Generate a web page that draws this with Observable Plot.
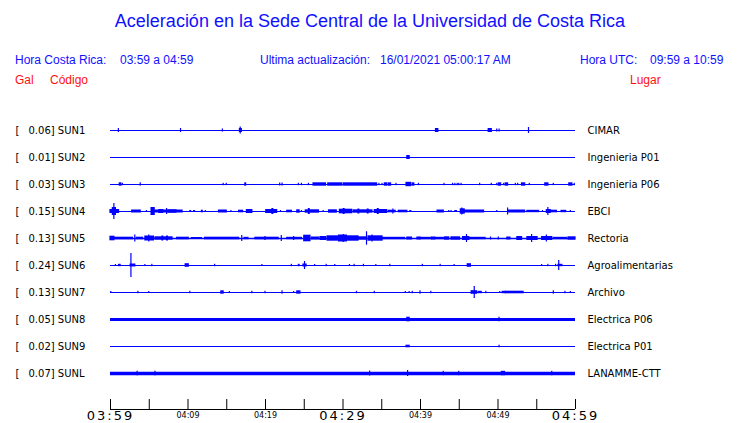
<!DOCTYPE html>
<html><head><meta charset="utf-8">
<script src="https://cdn.jsdelivr.net/npm/d3@7"></script>
<script src="https://cdn.jsdelivr.net/npm/@observablehq/plot@0.6"></script>
<style>
body{margin:0;background:#fff;width:740px;height:423px;position:relative;overflow:hidden;font-family:"Liberation Sans",Arial,sans-serif;}
.t{position:absolute;white-space:pre;}
#title{left:0;width:740px;text-align:center;top:9px;font-size:18px;line-height:24px;color:#1010ff;}
.info{font-size:12px;line-height:16px;color:#1010ff;top:52px;}
.red{font-size:12px;line-height:16px;color:#ff1010;top:72px;}
#chart{position:absolute;left:0;top:95px;}
</style></head>
<body>
<div id="title" class="t">Aceleración en la Sede Central de la Universidad de Costa Rica</div>
<div class="t info" style="left:15px">Hora Costa Rica:</div>
<div class="t info" style="left:120px">03:59 a 04:59</div>
<div class="t info" style="left:260px">Ultima actualización:</div>
<div class="t info" style="left:380px">16/01/2021 05:00:17 AM</div>
<div class="t info" style="left:580px">Hora UTC:</div>
<div class="t info" style="left:650px">09:59 a 10:59</div>
<div class="t red" style="left:15px">Gal</div>
<div class="t red" style="left:50px">Código</div>
<div class="t red" style="left:630px">Lugar</div>
<div id="chart"></div>
<script>
// ---- data ----
const codes = ["SUN1","SUN2","SUN3","SUN4","SUN5","SUN6","SUN7","SUN8","SUN9","SUNL"];
const places = ["CIMAR","Ingenieria P01","Ingenieria P06","EBCI","Rectoria","Agroalimentarias","Archivo","Electrica P06","Electrica P01","LANAMME-CTT"];
const gal = [0.06,0.01,0.03,0.15,0.13,0.24,0.13,0.05,0.02,0.07];
// bursts per station: [start minute, end minute, half amplitude]
const sun1 = [[1.08,1.08,2],[9.1,9.1,2],[14.5,14.5,1.5],[16.7,16.95,2],[16.8,16.8,3.5],[42.0,42.3,2],[48.8,49.2,2],[49.9,49.9,1.5],[50.2,50.2,1.5],[54.0,54.0,3]];
const sun2 = [[38.3,38.6,2]];
const sun3 = [[1.2,1.4,1.7],[1.6,1.6,1.2],[3.9,3.9,1.7],[14.6,14.6,1.2],[15.0,15.0,1.2],[17.4,17.5,1.7],[21.9,21.9,1.5],[22.2,22.2,1.5],[24.3,24.3,1.2],[24.7,24.7,1.2],[25.6,25.6,1.2],[26.2,27.8,1.7],[28.1,29.9,1.7],[30.1,32.9,1.7],[33.0,34.4,1.7],[34.7,34.7,1.2],[35.1,35.1,1.2],[35.4,35.7,1.7],[35.9,36.2,1.7],[36.9,36.9,1.2],[38.2,38.8,2.2],[39.0,39.2,1.7],[39.8,39.8,1.2],[43.1,43.1,1.2],[44.2,44.2,1.2],[44.5,44.5,1.2],[44.8,44.8,1.2],[45.0,45.0,1.2],[45.3,45.3,1.2],[47.7,47.7,1.2],[49.2,49.2,1.2],[49.9,49.9,1.2],[50.1,50.4,1.7],[50.8,50.8,1.2],[51.0,51.3,1.7],[52.3,52.3,1.2],[52.6,52.6,1.2],[53.1,53.5,1.7],[54.1,54.1,1.2],[56.1,56.5,1.7],[57.2,57.2,1.2],[59.2,59.6,1.7],[59.9,59.9,1.2]];
const sun4 = [[0.0,1.1,2],[0.5,0.5,8],[0.3,0.7,4],[2.8,3.9,1.5],[4.7,4.7,1],[5.3,5.7,4],[5.7,9.3,1.5],[6.3,6.8,2],[7.3,7.3,3],[7.5,8.5,1.7],[10.3,10.4,1],[10.8,10.9,1],[11.8,11.9,1.3],[12.3,12.3,1],[14.0,15.0,1.5],[15.6,15.6,1],[16.6,17.1,1.3],[17.6,18.3,2],[20.1,21.5,2],[20.9,21.0,3],[22.0,22.0,1],[22.8,23.4,1.3],[24.1,24.4,1.7],[24.7,24.7,1],[25.2,26.9,1.7],[25.6,25.7,3],[27.5,27.5,1],[28.2,29.2,1.7],[29.6,31.2,2.3],[30.1,30.2,3],[31.4,33.8,1.7],[32.0,32.1,2.5],[33.2,33.3,2.5],[34.1,35.7,2],[34.5,34.6,3],[35.9,36.8,1.3],[36.5,36.5,2.5],[37.2,38.3,1.3],[38.7,38.8,1],[42.2,43.0,1.5],[43.7,43.7,1],[44.0,44.0,1],[44.5,44.7,1],[45.2,45.7,2.7],[45.4,45.4,3.5],[45.7,48.2,1.5],[49.9,49.9,1],[51.3,51.3,3.5],[51.4,53.5,1.5],[53.8,55.3,1.2],[55.8,55.8,1],[56.3,56.8,2],[56.5,56.5,4],[56.8,57.6,1.3],[58.2,58.8,1.2],[59.4,59.4,1]];
const sun5 = [[0.0,0.5,2.3],[0.5,2.9,1.3],[3.2,3.2,3.5],[3.4,4.2,1.3],[4.5,5.6,2.5],[5.0,5.0,3.5],[5.8,8.0,1.7],[6.7,6.8,2.5],[7.3,7.4,2.5],[8.6,10.1,1.3],[10.5,11.8,1],[12.2,16.6,1.3],[17.0,17.0,3],[17.3,17.8,1.2],[18.7,21.7,1.3],[20.0,20.0,2],[22.1,22.1,3],[22.8,24.7,1.2],[23.7,23.7,2],[25.0,25.8,3.3],[26.0,26.9,1.5],[27.1,27.8,2],[28.0,32.0,2.7],[29.5,30.5,3.5],[30.1,30.1,4],[32.0,33.0,1.7],[33.1,33.1,6.7],[33.3,35.1,2.7],[33.8,33.8,3.5],[35.1,38.0,1.2],[38.3,38.9,1.5],[39.6,40.0,1.5],[40.0,41.5,1.2],[41.5,41.9,1.5],[41.9,43.2,1.2],[43.2,43.7,1.7],[44.0,45.1,1.7],[45.5,46.3,2],[46.0,46.0,4],[46.3,48.4,1.2],[49.1,49.1,1.5],[50.1,50.1,1.5],[51.2,51.6,1.5],[52.5,53.1,2],[53.8,55.1,2],[54.4,54.4,4],[55.7,57.0,2],[56.3,56.3,3.5],[57.2,58.9,1.2],[59.1,60.0,1.7]];
const sun6 = [[0.7,0.7,1],[1.1,1.3,1.2],[2.6,3.2,1.5],[2.7,2.7,12],[4.5,4.5,1],[5.4,5.4,1.2],[9.7,10.1,1.8],[13.5,13.5,1.2],[19.6,19.6,1],[23.4,23.4,1.2],[24.3,24.4,1.2],[25.1,25.1,4],[24.9,25.3,1.5],[26.4,26.4,1],[27.9,27.9,1.2],[29.0,29.0,1],[30.9,30.9,1],[31.5,31.5,1.2],[32.7,32.7,1.2],[34.3,34.3,1],[36.1,36.1,1.2],[40.3,40.3,1.2],[42.6,42.6,1.2],[44.4,44.4,1],[46.1,46.5,1.8],[55.7,55.7,1],[56.5,56.5,1.2],[57.5,57.5,1.2],[57.9,57.9,5],[57.8,58.3,1.2]];
const sun7 = [[0.1,0.1,1],[3.6,3.6,1.2],[5.0,5.0,1],[10.3,10.3,1.2],[14.3,14.6,1.7],[15.4,15.4,1],[18.3,18.3,1.2],[20.0,20.0,1.2],[22.2,22.2,1.7],[23.7,23.7,1],[24.1,24.5,1.7],[31.8,31.8,1.2],[34.1,34.1,1.2],[38.1,38.1,1],[38.6,38.6,1],[39.0,39.0,1.2],[40.0,40.0,1.7],[41.4,41.4,1.2],[46.6,47.3,1.8],[47.0,47.0,6],[47.5,47.9,1.2],[48.5,48.5,1.2],[50.3,50.3,1],[50.6,51.0,1.2],[51.0,53.3,1.3],[57.2,57.2,1.7],[58.7,58.7,1.2],[59.4,59.4,1]];
const sun8 = [[38.3,38.6,2.3],[50.2,50.2,2.3]];
const sun9 = [[38.2,38.6,1.3],[50.2,50.2,1.3]];
const sunl = [[3.5,3.5,2.3],[5.8,5.8,2.3],[33.5,33.5,2.5],[38.4,38.4,3],[43.0,43.0,2.2],[45.0,45.0,2.2],[50.5,50.9,2.2],[57.0,57.0,2.2]];
const bursts = [sun1,sun2,sun3,sun4,sun5,sun6,sun7,sun8,sun9,sunl];
const tickMinutes = [0,5,10,15,20,25,30,35,40,45,50,55,60];
const labelMinutes = [0,10,20,30,40,50,60];
const tickLabels = ["03:59","04:09","04:19","04:29","04:39","04:49","04:59"];
const bigLabels = ["03:59","04:29","04:59"];

// ---- styles ----
const BLUE = "#0000ff";
const AMP_PER_ROW = 27;          // amplitude units per row spacing
const baseWidth = {SUN5: 1.6, SUN8: 3.2, SUNL: 3.6};
const Y_TOP = -35/27, AXIS_Y = 279/27, TICK_LEN = 10/27;

const rows = codes.map((c,i)=>({i, code:c, place:places[i], gal:gal[i]}));
const events = bursts.flatMap((b,i)=>b.map(([t1,t2,a])=>({i,t1,t2,a:a/AMP_PER_ROW})));
const labels = labelMinutes.map((m,k)=>({m, label:tickLabels[k], big:bigLabels.includes(tickLabels[k])}));

const chart = Plot.plot({
  width: 740, height: 328,
  marginLeft: 110, marginRight: 165, marginTop: 0, marginBottom: 14,
  style: {fontFamily: "DejaVu Sans", background: "white", overflow: "visible"},
  x: {domain: [0,60], axis: null},
  y: {domain: [Y_TOP, AXIS_Y], reverse: true, axis: null},
  marks: [
    Plot.ruleY(rows, {y: "i", x1: 0, x2: 60, stroke: BLUE, strokeWidth: d => baseWidth[d.code] ?? 1.2}),
    Plot.rect(events, {x1: "t1", x2: "t2", y1: d => d.i - d.a, y2: d => d.i + d.a, fill: BLUE, insetLeft: -0.6, insetRight: -0.6}),
    Plot.text(rows, {y: "i", text: () => "[", frameAnchor: "left", dx: -95, textAnchor: "start", fontSize: 10, fill: "black"}),
    Plot.text(rows, {y: "i", text: d => d.gal.toFixed(2) + "] " + d.code, frameAnchor: "left", dx: -82, textAnchor: "start", fontSize: 10, fill: "black"}),
    Plot.text(rows, {y: "i", text: "place", frameAnchor: "right", dx: 12, textAnchor: "start", fontSize: 10, fill: "black"}),
    Plot.ruleY([AXIS_Y], {x1: 0, x2: 60, stroke: "black", strokeWidth: 1}),
    Plot.ruleX(tickMinutes, {x: d => d, y1: AXIS_Y, y2: AXIS_Y - TICK_LEN, stroke: "black", strokeWidth: 1}),
    Plot.text(labels.filter(d => d.big), {x: "m", text: "label", frameAnchor: "bottom", dy: 10, fontSize: 13, fill: "black"}),
    Plot.text(labels.filter(d => !d.big), {x: "m", text: "label", frameAnchor: "bottom", dy: 8, fontSize: 8, fill: "black"})
  ]
});
chart.querySelectorAll("text").forEach(t => {
  if (bigLabels.includes(t.textContent)) { t.style.letterSpacing = "2px"; }
});
document.getElementById("chart").appendChild(chart);
</script>
</body></html>
